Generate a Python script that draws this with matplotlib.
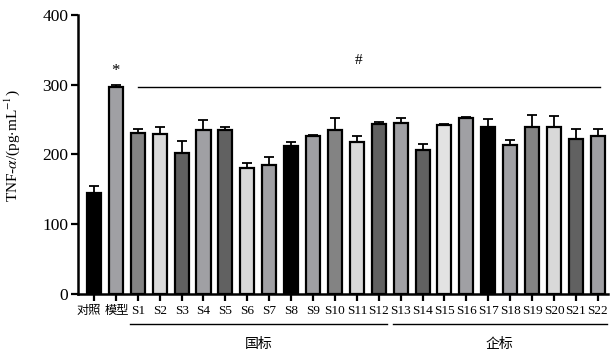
import numpy as np
import matplotlib
matplotlib.use('Agg')
import matplotlib.pyplot as plt
import matplotlib.transforms as mtransforms

plt.rcParams['font.family'] = ['Liberation Serif', 'Noto Sans CJK SC']
plt.rcParams['mathtext.fontset'] = 'stix'

labels = ['对照', '模型'] + ['S%d' % i for i in range(1, 23)]
means = [145, 296, 230, 229, 202, 235, 235, 180, 185, 212, 226, 235, 218, 243,
         245, 206, 242, 252, 239, 213, 239, 239, 222, 227]
errs = [10, 3, 6, 10, 17, 14, 5, 7, 11, 6, 2, 17, 8, 4,
        7, 9, 1, 1, 12, 7, 18, 16, 14, 10]
colors = ['#000000', '#a0a0a4', '#838383', '#d9d9d9', '#616161', '#a0a0a4',
          '#616161', '#d9d9d9', '#a0a0a4', '#000000', '#a0a0a4', '#838383',
          '#d9d9d9', '#616161', '#a0a0a4', '#616161', '#e3e3e3', '#a0a0a4',
          '#000000', '#a0a0a4', '#838383', '#d9d9d9', '#616161', '#a0a0a4']
groups = [('国标', 2, 13), ('企标', 14, 23)]

x = np.arange(len(labels))

fig = plt.figure(figsize=(6.14, 3.55), dpi=100)
ax = fig.add_axes([0.127, 0.172, 0.863, 0.786])

ax.bar(x, means, width=0.64, color=colors, edgecolor='black', linewidth=1.6, zorder=2)
ax.errorbar(x, means, yerr=[np.zeros(len(errs)), errs], fmt='none', ecolor='black',
            elinewidth=1.3, capsize=3.5, capthick=1.3, zorder=1)

ax.set_xlim(-0.73, 23.46)
ax.set_ylim(0, 400)
ax.set_yticks([0, 100, 200, 300, 400])
ax.set_xticks(x)
ax.set_xticklabels(labels, fontsize=9.5)
ax.tick_params(axis='y', labelsize=12.5, width=1.6, length=5, pad=2)
ax.tick_params(axis='x', width=1.6, length=5, pad=3)
for s in ['top', 'right']:
    ax.spines[s].set_visible(False)
for s in ['left', 'bottom']:
    ax.spines[s].set_linewidth(1.8)

# the two Chinese group names are wider than a bar slot
tl = ax.get_xticklabels()
for lab, dx in [(tl[0], -3.5), (tl[1], 0.5)]:
    lab.set_fontsize(8.8)
    lab.set_transform(lab.get_transform() + mtransforms.ScaledTranslation(dx / 72, 0, fig.dpi_scale_trans))

ax.set_ylabel('TNF-$\\alpha$/(pg$\\cdot$mL$^{-1}$)', fontsize=11)
ax.yaxis.set_label_coords(-0.105, 0.53)

# significance marks
ax.plot([2, 23.1], [296, 296], color='black', linewidth=1.0)
ax.text(1, 320, '*', ha='center', va='center', fontsize=12)
ax.text(12.1, 335, '#', ha='center', va='center', fontsize=11)

# group labels
trans = mtransforms.blended_transform_factory(ax.transData, ax.transAxes)
for name, i0, i1 in groups:
    ax.plot([i0 - 0.35, i1 + 0.4], [-0.108, -0.108], transform=trans, color='black',
            linewidth=1.0, clip_on=False)
    ax.text((i0 + i1) / 2, -0.18, name, transform=trans, ha='center', va='center',
            fontsize=10)

fig.savefig('out.png', dpi=100)
